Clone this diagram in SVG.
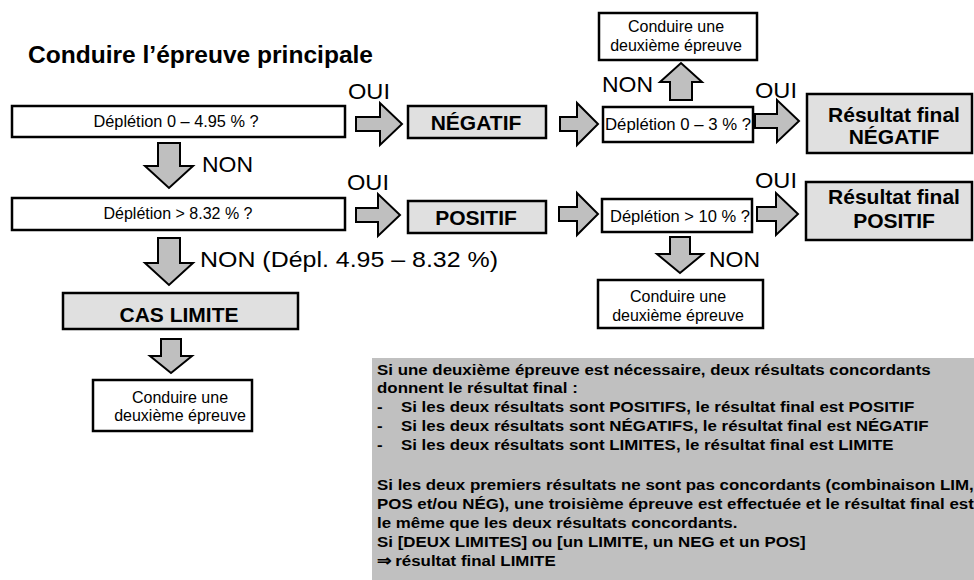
<svg xmlns="http://www.w3.org/2000/svg" width="974" height="580" viewBox="0 0 974 580">
<style>
text{font-family:"Liberation Sans",Arial,sans-serif;fill:#000}
.box{fill:#fff;stroke:#000;stroke-width:2.5}
.gbox{fill:#e0e0e0;stroke:#000;stroke-width:2.5}
.arr{fill:#bfbfbf;stroke:#000;stroke-width:2;stroke-linejoin:miter}
.t{font-size:16px;text-anchor:middle}
.b{font-size:21px;font-weight:bold;text-anchor:middle}
.lab{font-size:22px}
.note{font-size:15.5px;font-weight:bold}
</style>
<rect width="974" height="580" fill="#fff"/>
<text id="title" x="28" y="63" font-size="23" font-weight="bold" textLength="345" lengthAdjust="spacingAndGlyphs">Conduire l’épreuve principale</text>

<g id="connectors">
<path class="arr" d="M356,117 H380 V103 L402,124 L380,145 V131 H356 Z"/>
<path class="arr" d="M560,117 H577 V103 L598,124 L577,145 V131 H560 Z"/>
<path class="arr" d="M755,114 H777 V100 L799,121 L777,142 V128 H755 Z"/>
<path class="arr" d="M356,208 H378 V194 L400,215 L378,236 V222 H356 Z"/>
<path class="arr" d="M559,207 H577 V193 L598,214 L577,235 V221 H559 Z"/>
<path class="arr" d="M757,207 H776 V193 L798,214 L776,235 V221 H757 Z"/>
<path class="arr" d="M158,143 H180 V166 H193 L169,188 L145,166 H158 Z"/>
<path class="arr" d="M158,238 H180 V263 H193 L169,285 L145,263 H158 Z"/>
<path class="arr" d="M161,339 H181 V356 H192 L171,373 L150,356 H161 Z"/>
<path class="arr" d="M670,237 H690 V254 H703 L680,273 L657,254 H670 Z"/>
<path class="arr" d="M670,100 V82 H660 L681,63 L702,82 H692 V100 Z"/>
<text class="lab" x="348" y="99" textLength="42" lengthAdjust="spacingAndGlyphs">OUI</text>
<text class="lab" x="347" y="190" textLength="42" lengthAdjust="spacingAndGlyphs">OUI</text>
<text class="lab" x="755" y="98" textLength="42" lengthAdjust="spacingAndGlyphs">OUI</text>
<text class="lab" x="755" y="188" textLength="42" lengthAdjust="spacingAndGlyphs">OUI</text>
<text class="lab" x="202" y="172" textLength="51" lengthAdjust="spacingAndGlyphs">NON</text>
<text class="lab" x="602" y="92" textLength="51" lengthAdjust="spacingAndGlyphs">NON</text>
<text class="lab" x="709" y="267" textLength="51" lengthAdjust="spacingAndGlyphs">NON</text>
<text class="lab" x="200" y="267" textLength="298" lengthAdjust="spacingAndGlyphs">NON (Dépl. 4.95 – 8.32 %)</text>
</g>

<g id="q1"><rect class="box" x="12" y="106" width="333" height="31"/><text class="t" x="176" y="127" textLength="165" lengthAdjust="spacingAndGlyphs">Déplétion 0 – 4.95 % ?</text></g>
<g id="q2"><rect class="box" x="12" y="198" width="333" height="32"/><text class="t" x="178" y="219" font-size="15">Déplétion &gt; 8.32 % ?</text></g>
<g id="negatif"><rect class="gbox" x="408" y="106" width="138" height="32"/><text class="b" x="476" y="130">NÉGATIF</text></g>
<g id="positif"><rect class="gbox" x="408" y="201" width="138" height="32"/><text class="b" x="476" y="225">POSITIF</text></g>
<g id="q3"><rect class="box" x="603" y="107" width="150" height="35"/><text x="605" y="130" font-size="16" textLength="146" lengthAdjust="spacingAndGlyphs">Déplétion 0 – 3 % ?</text></g>
<g id="q4"><rect class="box" x="602" y="199" width="150" height="33"/><text x="610" y="222" font-size="16" textLength="140" lengthAdjust="spacingAndGlyphs">Déplétion &gt; 10 % ?</text></g>
<g id="second-top"><rect class="box" x="599" y="13" width="158" height="47"/><text class="t" x="676" y="32">Conduire une</text><text class="t" x="676" y="51">deuxième épreuve</text></g>
<g id="second-right"><rect class="box" x="598" y="280" width="165" height="48"/><text class="t" x="678" y="302">Conduire une</text><text class="t" x="678" y="321">deuxième épreuve</text></g>
<g id="final-neg"><rect class="gbox" x="807" y="94" width="165" height="59"/><text class="b" x="894" y="122">Résultat final</text><text class="b" x="894" y="144">NÉGATIF</text></g>
<g id="final-pos"><rect class="gbox" x="806" y="182" width="166" height="58"/><text class="b" x="894" y="204">Résultat final</text><text class="b" x="894" y="228">POSITIF</text></g>
<g id="cas-limite"><rect class="gbox" x="63" y="293" width="235" height="36"/><text class="b" x="179" y="322">CAS LIMITE</text></g>
<g id="second-left"><rect class="box" x="93" y="380" width="159" height="51"/><text class="t" x="180" y="403">Conduire une</text><text class="t" x="180" y="421">deuxième épreuve</text></g>

<g id="note">
<rect x="372" y="358" width="602" height="222" fill="#c0c0c0"/>
<g class="note" transform="translate(377,0) scale(1.09,1) translate(-377,0)">
<text x="377" y="375">Si une deuxième épreuve est nécessaire, deux résultats concordants</text>
<text x="377" y="393">donnent le résultat final :</text>
<text x="377" y="412">-</text><text x="399" y="412">Si les deux résultats sont POSITIFS, le résultat final est POSITIF</text>
<text x="377" y="431">-</text><text x="399" y="431">Si les deux résultats sont NÉGATIFS, le résultat final est NÉGATIF</text>
<text x="377" y="450">-</text><text x="399" y="450">Si les deux résultats sont LIMITES, le résultat final est LIMITE</text>
<text x="377" y="490">Si les deux premiers résultats ne sont pas concordants (combinaison LIM,</text>
<text x="377" y="509">POS et/ou NÉG), une troisième épreuve est effectuée et le résultat final est</text>
<text x="377" y="528">le même que les deux résultats concordants.</text>
<text x="377" y="547">Si [DEUX LIMITES] ou [un LIMITE, un NEG et un POS]</text>
<text x="377" y="566">⇒ résultat final LIMITE</text>
</g>
</g>
</svg>
